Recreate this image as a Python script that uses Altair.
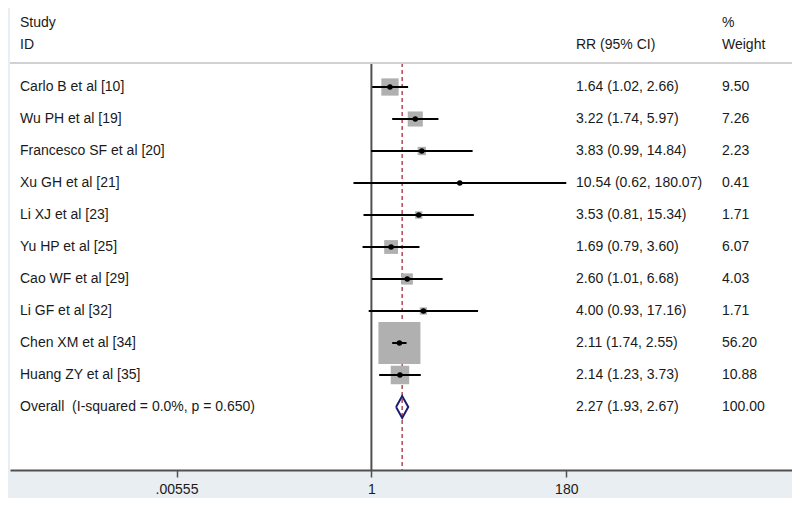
import altair as alt
import pandas as pd

# ---------------- data ----------------
studies = ["Carlo B et al [10]", "Wu PH et al [19]", "Francesco SF et al [20]",
           "Xu GH et al [21]", "Li XJ et al [23]", "Yu HP et al [25]",
           "Cao WF et al [29]", "Li GF et al [32]", "Chen XM et al [34]",
           "Huang ZY et al [35]"]
rr = [1.64, 3.22, 3.83, 10.54, 3.53, 1.69, 2.60, 4.00, 2.11, 2.14]
lo = [1.02, 1.74, 0.99, 0.62, 0.81, 0.79, 1.01, 0.93, 1.74, 1.23]
hi = [2.66, 5.97, 14.84, 180.07, 15.34, 3.60, 6.68, 17.16, 2.55, 3.73]
weight = [9.50, 7.26, 2.23, 0.41, 1.71, 6.07, 4.03, 1.71, 56.20, 10.88]

overall_label = "Overall\u00a0 (I-squared = 0.0%, p = 0.650)"
overall_rr = 2.27
overall_lo = 1.93
overall_hi = 2.67
overall_wt = 100.00

tick_values = [0.00555, 1, 180]
tick_labels = [".00555", "1", "180"]

# ---------------- tables ----------------
n = len(studies)
df = pd.DataFrame({"study": studies, "rr": rr, "lo": lo, "hi": hi,
                   "weight": weight, "row": list(range(n))})
df["ci_text"] = [f"{a:.2f} ({b:.2f}, {c:.2f})" for a, b, c in zip(rr, lo, hi)]
df["wt_text"] = [f"{w:.2f}" for w in weight]

ov_row = n
ov = pd.DataFrame({"study": [overall_label], "row": [ov_row],
                   "ci_text": [f"{overall_rr:.2f} ({overall_lo:.2f}, {overall_hi:.2f})"],
                   "wt_text": [f"{overall_wt:.2f}"]})
half_h = 0.34
diamond = pd.DataFrame({
    "x": [overall_lo, overall_rr, overall_hi, overall_rr, overall_lo],
    "y": [ov_row, ov_row - half_h, ov_row, ov_row + half_h, ov_row],
    "o": [0, 1, 2, 3, 4],
})

# ---------------- layout ----------------
W, H = 782, 462
Y_TOP, Y_BOT = -2.46875, 11.96875
SEP = -0.75
FONT = "Liberation Sans"
FS = 14
TXT = "#1a1a1a"

label_expr = "''"
for v, l in reversed(list(zip(tick_values, tick_labels))):
    label_expr = f"abs(log(datum.value) - log({v})) < 0.01 ? '{l}' : ({label_expr})"

xscale = alt.Scale(type="log", domain=[6.56e-5, 7.38e4], nice=False)
yscale = alt.Scale(domain=[Y_TOP, Y_BOT], reverse=True, nice=False, zero=False)
xaxis = alt.Axis(title=None, values=tick_values, labelExpr=label_expr, grid=False,
                 domainColor="#505050", domainWidth=2, tickColor="#505050",
                 tickWidth=1.5, tickSize=7, labelFont=FONT, labelFontSize=FS,
                 labelColor=TXT, labelPadding=5, labelFlush=False)
yaxis = None

one = alt.Data(values=[{"a": 1}])

null_line = alt.Chart(one).mark_rule(color="#505050", strokeWidth=2).encode(
    x=alt.X(datum=1, scale=xscale, axis=xaxis),
    y=alt.Y(datum=SEP, scale=yscale, axis=yaxis),
    y2=alt.Y2(datum=Y_BOT),
)
eff_line = alt.Chart(one).mark_rule(color="#B04A5C", strokeWidth=1.5,
                                    strokeDash=[4, 3]).encode(
    x=alt.X(datum=overall_rr, scale=xscale, axis=xaxis),
    y=alt.Y(datum=SEP, scale=yscale, axis=yaxis),
    y2=alt.Y2(datum=Y_BOT),
)
sep_line = alt.Chart(one).mark_rule(color="#D2D2D2", strokeWidth=2).encode(
    x=alt.value(0), x2=alt.value(W),
    y=alt.Y(datum=SEP, scale=yscale, axis=yaxis),
)

base = alt.Chart(df)
squares = base.mark_square(color="#B0B0B0", opacity=1).encode(
    x=alt.X("rr:Q", scale=xscale, axis=xaxis),
    y=alt.Y("row:Q", scale=yscale, axis=yaxis),
    size=alt.Size("weight:Q", scale=alt.Scale(domain=[0, 100], range=[0, 3140]),
                  legend=None),
)
ci = base.mark_rule(color="black", strokeWidth=2).encode(
    x=alt.X("lo:Q", scale=xscale, axis=xaxis),
    x2="hi:Q",
    y=alt.Y("row:Q", scale=yscale, axis=yaxis),
)
dots = base.mark_circle(color="black", size=30, opacity=1).encode(
    x=alt.X("rr:Q", scale=xscale, axis=xaxis),
    y=alt.Y("row:Q", scale=yscale, axis=yaxis),
)
dia = alt.Chart(diamond).mark_line(color="#1C1C70", strokeWidth=2).encode(
    x=alt.X("x:Q", scale=xscale, axis=xaxis),
    y=alt.Y("y:Q", scale=yscale, axis=yaxis),
    order="o:Q",
)

def col_text(data, field, px):
    return alt.Chart(data).mark_text(align="left", baseline="middle", font=FONT,
                                     fontSize=FS, color=TXT).encode(
        x=alt.value(px),
        y=alt.Y("row:Q", scale=yscale, axis=yaxis),
        text=f"{field}:N",
    )

def head_text(label, px, r):
    return alt.Chart(one).mark_text(align="left", baseline="middle", font=FONT,
                                    fontSize=FS, color=TXT, text=label).encode(
        x=alt.value(px),
        y=alt.Y(datum=r, scale=yscale, axis=yaxis),
    )

X_NAME, X_CI, X_WT = 10, 566, 712
texts = [
    col_text(df, "study", X_NAME), col_text(df, "ci_text", X_CI), col_text(df, "wt_text", X_WT),
    col_text(ov, "study", X_NAME), col_text(ov, "ci_text", X_CI), col_text(ov, "wt_text", X_WT),
    head_text("Study", X_NAME, -2.0), head_text("ID", X_NAME, -1.3125),
    head_text("RR (95% CI)", X_CI, -1.3125),
    head_text("%", X_WT, -2.0), head_text("Weight", X_WT, -1.3125),
]

chart = alt.layer(null_line, eff_line, sep_line, squares, ci, dots, dia, *texts).properties(
    width=W, height=H,
    autosize=alt.AutoSizeParams(type="none"),
    padding={"left": 2, "top": 0, "right": 0, "bottom": 28},
    background="#E8EEF1",
).configure_view(fill="white", strokeWidth=0)

chart.save("out.html", embed_options={"renderer": "svg", "actions": False})
